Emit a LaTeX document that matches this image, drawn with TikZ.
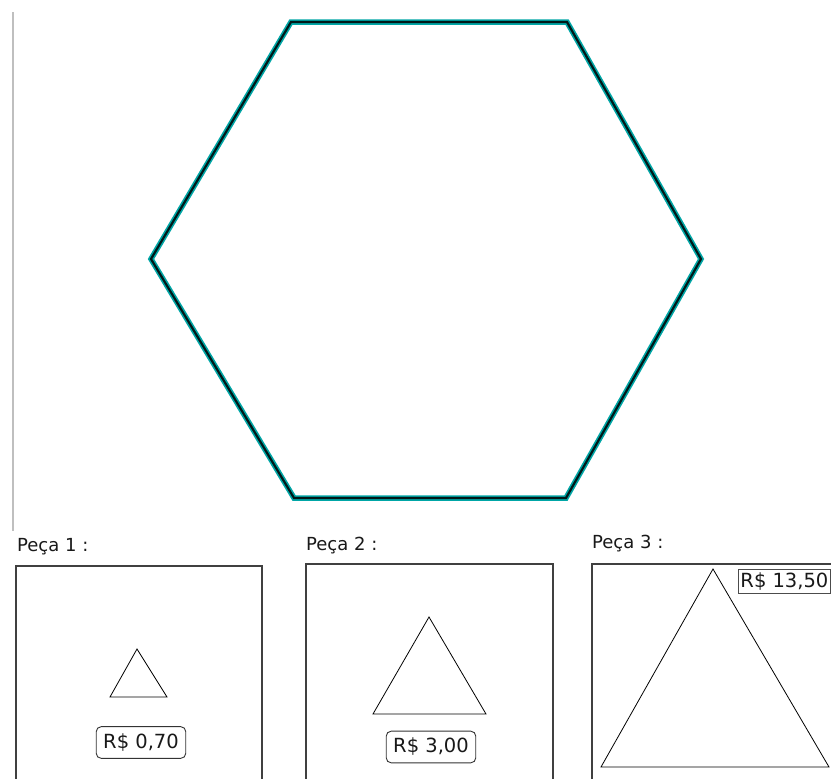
\documentclass[tikz,border=0pt]{standalone}
\usepackage{fontspec}
\setmainfont{DejaVu Sans}
\begin{document}
\begin{tikzpicture}[x=1pt,y=-1pt,
  hexteal/.style={line width=5.5pt,color=teal!70!cyan,line join=miter},
  hexcore/.style={line width=2.2pt,color=black!80!teal,line join=miter},
  piecebox/.style={draw=black!75,line width=1.2pt},
  tri/.style={draw=black,line width=0.8pt,line join=miter},
  pecalbl/.style={anchor=base west,inner sep=0pt,font=\fontsize{18}{20}\selectfont,text=black!90},
  pricebox/.style={draw=black!80,line width=0.9pt,rounded corners=5pt,inner xsep=7pt,inner ysep=7pt,font=\fontsize{19.5}{22}\selectfont,text=black!90},
  pricesq/.style={draw=black!70,line width=0.9pt,inner xsep=2pt,inner ysep=3pt,font=\fontsize{19.5}{22}\selectfont,text=black!90,anchor=north west}]
\useasboundingbox (0,0) rectangle (831,779);
\clip (0,0) rectangle (831,779);
\fill[white] (0,0) rectangle (831,779);
% left grey rule
\draw[black!25,line width=1.3pt] (13,12) -- (13,531);
% hexagon
\coordinate (h1) at (291,22);
\coordinate (h2) at (567,22);
\coordinate (h3) at (701,259);
\coordinate (h4) at (566,498);
\coordinate (h5) at (294,498);
\coordinate (h6) at (151,259);
\draw[hexteal] (h1) -- (h2) -- (h3) -- (h4) -- (h5) -- (h6) -- cycle;
\draw[hexcore] (h1) -- (h2) -- (h3) -- (h4) -- (h5) -- (h6) -- cycle;
% labels
\node[pecalbl] (l1) at (17,551) {Peça 1 :};
\node[pecalbl] (l2) at (306,550) {Peça 2 :};
\node[pecalbl] (l3) at (592,548) {Peça 3 :};
% boxes
\draw[piecebox] (16,785) -- (16,566) -- (262,566) -- (262,785);
\draw[piecebox] (306,785) -- (306,564) -- (553,564) -- (553,785);
\draw[piecebox] (592,785) -- (592,564) -- (840,564);
% triangles
\coordinate (a1) at (137,649); \coordinate (b1) at (110,697); \coordinate (c1) at (167,697);
\draw[tri] (a1) -- (b1) -- (c1) -- cycle;
\coordinate (a2) at (429,617); \coordinate (b2) at (373,714); \coordinate (c2) at (486,714);
\draw[tri] (a2) -- (b2) -- (c2) -- cycle;
\coordinate (a3) at (713,569); \coordinate (b3) at (601,767); \coordinate (c3) at (829,767);
\draw[tri] (a3) -- (b3) -- (c3) -- cycle;
% prices
\node[pricebox] (p1) at (141,742.5) {R\$ 0,70};
\node[pricebox] (p2) at (431,747) {R\$ 3,00};
\node[pricesq] (p3) at (738,569) {R\$ 13,50};
\end{tikzpicture}
\end{document}
